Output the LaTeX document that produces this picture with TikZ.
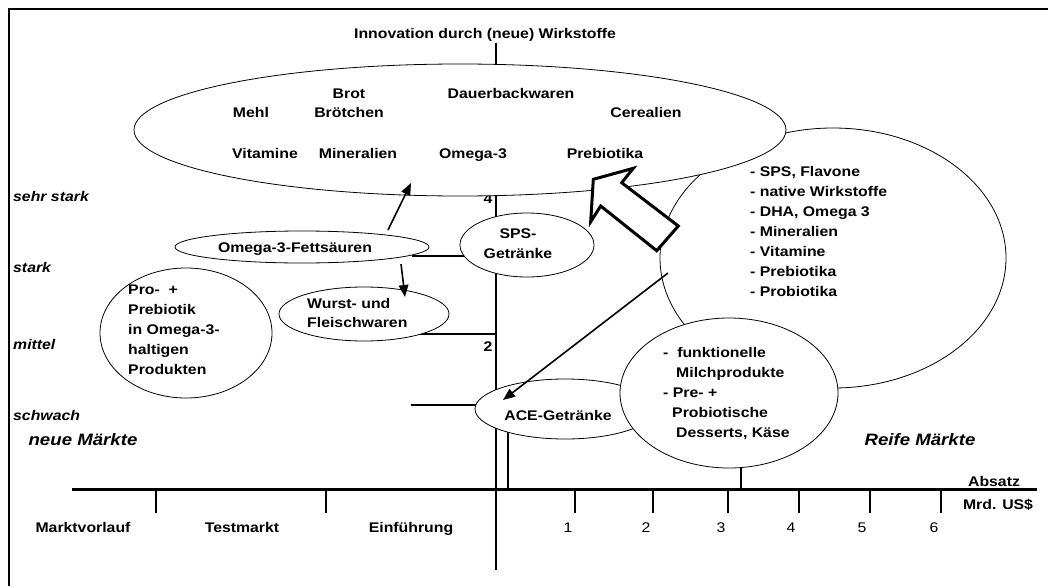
\documentclass[tikz,border=0pt]{standalone}
\usepackage{fontspec}
\setmainfont{Liberation Sans}[FakeStretch=1.13]
\usetikzlibrary{shapes.geometric,arrows.meta}
\tikzset{
  lbl/.style={font=\fontsize{14}{20}\selectfont\bfseries, inner sep=0pt, anchor=base},
  lst/.style={font=\fontsize{14}{20}\selectfont\bfseries, inner sep=0pt, anchor=north west, align=left},
  lvl/.style={font=\fontsize{14}{16}\selectfont\bfseries\itshape, anchor=base west, inner sep=0pt},
  mkt/.style={font=\fontsize{16.5}{18}\selectfont\bfseries\itshape, inner sep=0pt, anchor=base},
  num/.style={font=\fontsize{14}{16}\selectfont, inner sep=0pt, anchor=base},
  ell/.style={ellipse, draw, fill=white, line width=0.8pt, inner sep=0pt},
  axisline/.style={line width=2.5pt},
  lvlline/.style={line width=2pt},
  arr/.style={line width=1.6pt, -{Triangle[length=12pt,width=9.5pt]}},
  blockarrow/.style={line width=3pt, fill=white, line join=miter}
}
\begin{document}
\begin{tikzpicture}[x=1pt,y=-1pt]
\useasboundingbox (0,0) rectangle (1048,586);
% frame
\coordinate (fbl) at (9,586);
\coordinate (ftl) at (9,9);
\coordinate (ftr) at (1048,9);
\draw[axisline] (fbl) -- (ftl) -- (ftr);

% axes
\coordinate (vtop) at (496,43);
\coordinate (vbot) at (496,570);
\coordinate (hl) at (72,489.5);
\coordinate (hr) at (1037,489.5);
\draw[axisline] (vtop) -- (vbot);
\draw[axisline] (hl) -- (hr);

% ticks below the axis
\foreach \tx in {156,326,575,653,728,799,870,941}{
  \draw[axisline] (\tx,489.5) -- (\tx,513);
}
% second vertical line and tick above axis
\coordinate (v2t) at (508,420);
\coordinate (v2b) at (508,489.5);
\draw[axisline] (v2t) -- (v2b);
\coordinate (t3t) at (741,455);
\coordinate (t3b) at (741,489.5);
\draw[axisline] (t3t) -- (t3b);

% level lines
\coordinate (l1a) at (412,256); \coordinate (l1b) at (496,256);
\coordinate (l2a) at (416,334); \coordinate (l2b) at (496,334);
\coordinate (l3a) at (411,405); \coordinate (l3b) at (482,405);
\draw[lvlline] (l1a) -- (l1b);
\draw[lvlline] (l2a) -- (l2b);
\draw[lvlline] (l3a) -- (l3b);

% axis numbers
\node[lbl] (n4) at (488,203) {4};
\node[lbl] (n2) at (488,351) {2};

% title
\node[lbl] (title) at (485,38) {Innovation durch (neue) Wirkstoffe};

% right big ellipse (behind)
\node[ell, minimum width=346pt, minimum height=260pt] (right) at (833,258) {};

% big top ellipse
\node[ell, minimum width=652pt, minimum height=132pt] (big) at (460,130) {};
\node[lbl] (brot) at (349,98) {Brot};
\node[lbl] (dauer) at (511,98) {Dauerbackwaren};
\node[lbl] (mehl) at (251,117) {Mehl};
\node[lbl] (broetchen) at (349,117) {Brötchen};
\node[lbl] (cereal) at (646,117) {Cerealien};
\node[lbl] (vit) at (265,158) {Vitamine};
\node[lbl] (min) at (358,158) {Mineralien};
\node[lbl] (om3) at (473,158) {Omega-3};
\node[lbl] (prebio) at (605,158) {Prebiotika};

% list in right ellipse
\node[lst] (rlist) at (750,166) {- SPS, Flavone\\- native Wirkstoffe\\- DHA, Omega 3\\- Mineralien\\- Vitamine\\- Prebiotika\\- Probiotika};

% block arrow
\draw[blockarrow] (593.3,179.3) -- (633.3,168.3) -- (621.7,182.7) -- (678.3,226) -- (656.7,250.7) -- (600.7,206) -- (590.7,221.7) -- cycle;

% small ellipses
\node[ell, minimum width=254pt, minimum height=32pt] (omega) at (302,247) {};
\node[lbl] (omegat) at (295,252) {Omega-3-Fettsäuren};

\node[ell, minimum width=172pt, minimum height=130pt] (pro) at (186,333) {};
\node[lst] (prot) at (128,284.5) {Pro-\ \ +\\Prebiotik\\in Omega-3-\\haltigen\\Produkten};

\node[ell, minimum width=170pt, minimum height=54pt] (wurst) at (364,314) {};
\node[lst, font=\fontsize{14}{19}\selectfont\bfseries] (wurstt) at (307,298.5) {Wurst- und\\Fleischwaren};

\node[ell, minimum width=134pt, minimum height=64pt] (sps) at (527,245) {};
\node[lbl] (spst1) at (518,238) {SPS-};
\node[lbl] (spst2) at (518,258) {Getränke};

\node[ell, minimum width=180pt, minimum height=60pt] (ace) at (565,409) {};
\node[lbl] (acet) at (558,420) {ACE-Getränke};

\node[ell, minimum width=218pt, minimum height=150pt] (milch) at (729,393) {};
\node[lst] (milcht) at (663,347.5) {-\ \ funktionelle\\\hspace*{13pt}Milchprodukte\\- Pre- +\\\hspace*{9pt}Probiotische\\\hspace*{13pt}Desserts, Käse};

% arrows
\coordinate (a1s) at (388,230); \coordinate (a1e) at (411,183);
\draw[arr] (a1s) -- (a1e);
\coordinate (a2s) at (401,264); \coordinate (a2e) at (405,297);
\draw[arr] (a2s) -- (a2e);
\coordinate (a3s) at (668,273); \coordinate (a3e) at (503,400);
\draw[arr] (a3s) -- (a3e);

% level labels
\node[lvl] (sehr) at (13,201) {sehr stark};
\node[lvl] (stark) at (13,272) {stark};
\node[lvl] (mittel) at (13,349) {mittel};
\node[lvl] (schwach) at (13,420) {schwach};
\node[mkt] (neue) at (83,445) {neue Märkte};
\node[mkt] (reife) at (920,445) {Reife Märkte};

% axis labels
\node[lbl] (absatz) at (994,486) {Absatz};
\node[lbl] (mrd) at (998,509) {Mrd. US\$};
\node[lbl] (mv) at (83,532) {Marktvorlauf};
\node[lbl] (tm) at (242,532) {Testmarkt};
\node[lbl] (ef) at (411,532) {Einführung};
\node[num] (x1) at (568,532) {1};
\node[num] (x2) at (646,532) {2};
\node[num] (x3) at (721,532) {3};
\node[num] (x4) at (791,532) {4};
\node[num] (x5) at (862,532) {5};
\node[num] (x6) at (934,532) {6};
\end{tikzpicture}
\end{document}
